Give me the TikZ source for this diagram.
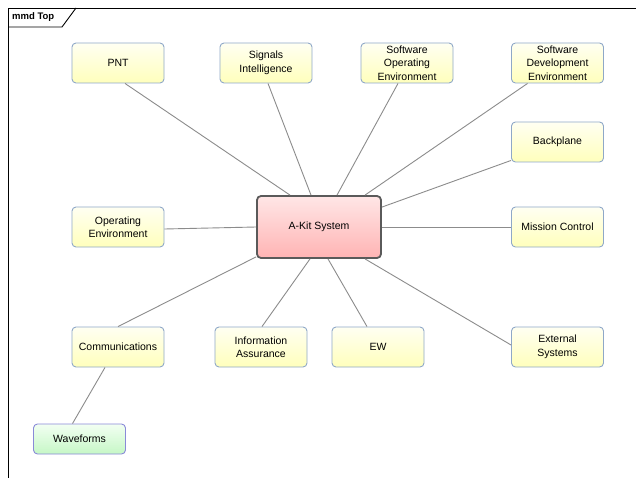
\documentclass[tikz,border=0pt]{standalone}
\usepackage{fontspec}
\setmainfont{Liberation Sans}
\usetikzlibrary{calc,shadings}
\definecolor{boxedge}{HTML}{8FA8C8}
\definecolor{boxtop}{HTML}{FFFFF2}
\definecolor{boxbot}{HTML}{FFFFBC}
\definecolor{coretop}{HTML}{FFE6E6}
\definecolor{corebot}{HTML}{FFB4B4}
\definecolor{coreedge}{HTML}{5A5A5A}
\definecolor{greentop}{HTML}{F2FFF2}
\definecolor{greenbot}{HTML}{C6F7C6}
\definecolor{greenedge}{HTML}{8A8AD8}
\definecolor{link}{HTML}{8C8C8C}
\tikzset{
  block/.style={draw=boxedge, line width=0.9pt, rounded corners=4pt,
    top color=boxtop, bottom color=boxbot,
    minimum width=92pt, minimum height=40pt, inner sep=1pt,
    align=center, font=\fontsize{10.5}{13.5}\selectfont},
  core/.style={block, draw=coreedge, line width=1.8pt,
    top color=coretop, bottom color=corebot,
    minimum width=124pt, minimum height=62pt},
  leaf/.style={block, draw=greenedge, top color=greentop, bottom color=greenbot,
    minimum height=30pt},
  link/.style={draw=link, line width=0.9pt},
  frameline/.style={draw=black, line width=0.9pt}
}
\begin{document}
\begin{tikzpicture}[x=1pt,y=-1pt]
  \useasboundingbox (0,0) rectangle (636,478);
  \fill[white] (0,0) rectangle (636,478);

  % diagram frame and its name tab
  \draw[frameline] (636,8) -- (8,8) -- (8,478);
  \draw[frameline] (8,27) -- (62,27) -- (76,8);
  \node[anchor=west, inner sep=0pt, font=\bfseries\fontsize{9.5}{11}\selectfont] (title) at (12,17.5) {mmd Top};

  % central block
  \node[core] (akit) at (319,227) {A-Kit System};

  % surrounding blocks
  \node[block] (pnt)  at (118,63)   {PNT};
  \node[block] (sig)  at (266,63)   {Signals\\Intelligence};
  \node[block] (soe)  at (407,63)   {Software\\Operating\\Environment};
  \node[block] (sde)  at (557.5,63) {Software\\Development\\Environment};
  \node[block] (back) at (557.5,142) {Backplane};
  \node[block] (mc)   at (557.5,227) {Mission Control};
  \node[block] (ext)  at (557.5,347) {External\\Systems};
  \node[block] (ew)   at (378,347)  {EW};
  \node[block] (ia)   at (261,347)  {Information\\Assurance};
  \node[block] (comm) at (118,347)  {Communications};
  \node[block] (oe)   at (118,227)  {Operating\\Environment};
  \node[leaf]  (wave) at (79.5,439) {Waveforms};

  % connectors
  \draw[link] ($(pnt.south)+(7,0)$)  -- ($(akit.north)+(-29,0)$);
  \draw[link] ($(sig.south)+(2,0)$)  -- ($(akit.north)+(-8,0)$);
  \draw[link] ($(soe.south)+(-9,0)$) -- ($(akit.north)+(18,0)$);
  \draw[link] ($(sde.south)+(-30,0)$) -- ($(akit.north)+(46,0)$);
  \draw[link] ($(back.south west)+(0,-2)$) -- ($(akit.north east)+(0,12)$);
  \draw[link] (akit.east) -- (mc.west);
  \draw[link] ($(akit.south)+(46,0)$) -- ($(ext.west)+(0,-2)$);
  \draw[link] ($(akit.south)+(9,0)$)  -- ($(ew.north)+(-11,0)$);
  \draw[link] ($(akit.south)+(-9,0)$) -- ($(ia.north)+(1,0)$);
  \draw[link] ($(akit.south west)+(0,-2)$) -- (comm.north);
  \draw[link] ($(oe.east)+(0,2)$) -- (akit.west);
  \draw[link] ($(comm.south)+(-13,0)$) -- ($(wave.north)+(-7,0)$);
\end{tikzpicture}
\end{document}
